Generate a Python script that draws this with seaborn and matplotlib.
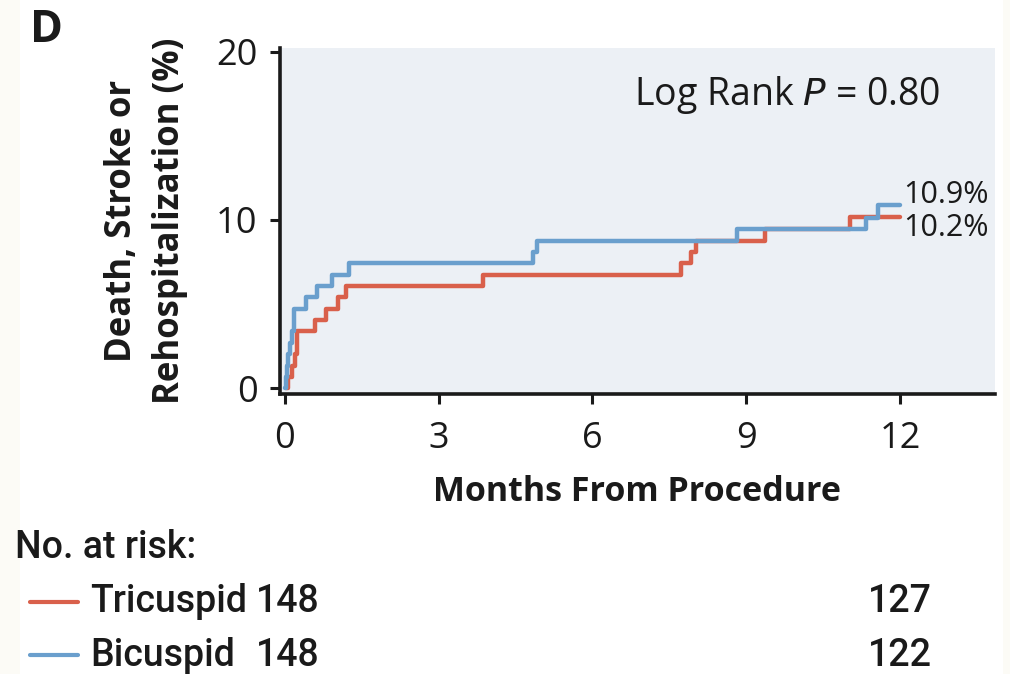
import matplotlib
matplotlib.use("Agg")
import matplotlib.pyplot as plt
import matplotlib.transforms as mtransforms
from matplotlib.patches import Rectangle
import seaborn as sns
import pandas as pd

# ---------------------------
# Kaplan-Meier style cumulative event curves
# ---------------------------
tri_months = [0.03, 0.065, 0.15, 0.195, 0.24, 0.585, 0.8, 1.04, 1.19, 3.87, 7.73, 7.93, 8.03, 9.36, 11.03, 12.0]
tri_pct = [0, 0.68, 1.35, 2.03, 3.38, 4.05, 4.73, 5.41, 6.08, 6.76, 7.43, 8.11, 8.78, 9.46, 10.2, 10.2]

bi_months = [0, 0.02, 0.04, 0.06, 0.1, 0.15, 0.18, 0.41, 0.62, 0.93, 1.25, 4.84, 4.92, 8.82, 11.34, 11.57, 12.0]
bi_pct = [0, 0.68, 1.35, 2.03, 2.7, 3.38, 4.73, 5.41, 6.08, 6.76, 7.43, 8.11, 8.78, 9.46, 10.14, 10.9, 10.9]

groups = ["Tricuspid", "Bicuspid"]
at_risk_start = [148, 148]
at_risk_12 = [127, 122]
final_labels = ["10.2%", "10.9%"]

RED = "#d9604b"
BLUE = "#6a9fcd"
AX_BG = "#ecf0f5"
INK = "#1a1a1a"
TABLE_FONT = ["Roboto", "DejaVu Sans"]

df = pd.concat([
    pd.DataFrame({"Months": tri_months, "Pct": tri_pct, "Group": "Tricuspid"}),
    pd.DataFrame({"Months": bi_months, "Pct": bi_pct, "Group": "Bicuspid"}),
], ignore_index=True)

sns.set_style("ticks")
plt.rcParams["font.family"] = ["Open Sans", "DejaVu Sans"]
plt.rcParams["font.weight"] = "medium"

fig = plt.figure(figsize=(10.1, 6.74), dpi=100)
fig.patch.set_facecolor("#fcfbf6")
fig.patches.append(Rectangle((20 / 1010, 0), 983 / 1010, 1, transform=fig.transFigure,
                             facecolor="white", edgecolor="none", zorder=-10))

ax = fig.add_axes([0.277, 0.4147, 0.708, 0.5141])
ax.set_facecolor(AX_BG)

sns.lineplot(data=df, x="Months", y="Pct", hue="Group", hue_order=groups,
             palette=[RED, BLUE], estimator=None, sort=False, units="Group",
             drawstyle="steps-post", linewidth=3.2, legend=False, ax=ax)

ax.set_xlim(-0.098, 13.85)
ax.set_ylim(-0.37, 20.22)
ax.set_xticks([0, 3, 6, 9, 12])
ax.set_yticks([0, 10, 20])
ax.tick_params(axis="both", direction="out", length=7, width=2.2, labelsize=26,
               color=INK, labelcolor=INK)
ax.tick_params(axis="x", pad=12)
ax.tick_params(axis="y", pad=9)
for side in ["top", "right"]:
    ax.spines[side].set_visible(False)
for side in ["left", "bottom"]:
    ax.spines[side].set_linewidth(2.6)
    ax.spines[side].set_color(INK)

ax.set_xlabel("Months From Procedure", fontsize=24.5, fontweight="bold", labelpad=13, color=INK)
ax.set_ylabel("Death, Stroke or\nRehospitalization (%)", fontsize=25, fontweight="bold",
              labelpad=20, linespacing=1.45, color=INK)

ax.text(12.78, 17.4, "Log Rank $\\mathit{P}$ = 0.80", fontsize=27, ha="right", va="center",
        color=INK)
ax.text(12.06, 11.5, final_labels[1], fontsize=22, ha="left", va="center", color=INK)
ax.text(12.06, 9.5, final_labels[0], fontsize=22, ha="left", va="center", color=INK)

fig.text(30 / 1010, 1 - 31 / 674, "D", fontsize=32, fontweight="bold", va="center", ha="left",
         color=INK)

# ---------------------------
# Number at risk table
# ---------------------------
blend = mtransforms.blended_transform_factory(ax.transData, fig.transFigure)
fig.text(15 / 1010, 1 - 548 / 674, "No. at risk:", fontsize=27, fontweight="medium",
         va="center", ha="left", family=TABLE_FONT, color=INK)
for i, (g, c) in enumerate(zip(groups, [RED, BLUE])):
    yy = 1 - (602 + 53 * i) / 674
    fig.add_artist(plt.Line2D([30 / 1010, 78 / 1010], [yy, yy], color=c, lw=3,
                              transform=fig.transFigure))
    fig.text(90 / 1010, yy, g, fontsize=27, fontweight="medium", va="center", ha="left",
             family=TABLE_FONT, color=INK)
    ax.text(0.05, yy, str(at_risk_start[i]), transform=blend, fontsize=27, fontweight="medium",
            va="center", ha="center", clip_on=False, family=TABLE_FONT, color=INK)
    ax.text(12, yy, str(at_risk_12[i]), transform=blend, fontsize=27, fontweight="medium",
            va="center", ha="center", clip_on=False, family=TABLE_FONT, color=INK)

fig.savefig("out.png", dpi=100, facecolor=fig.get_facecolor())
plt.close(fig)
